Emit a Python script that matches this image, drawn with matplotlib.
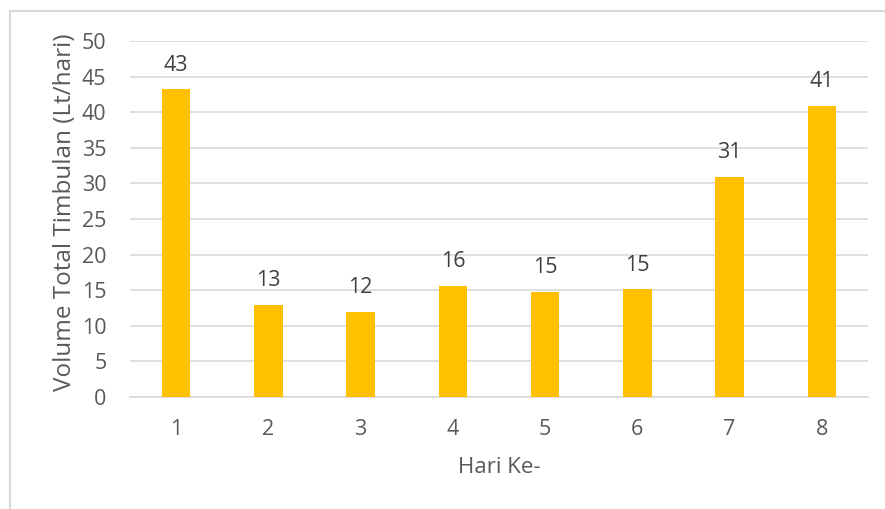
import matplotlib.pyplot as plt
from matplotlib.patches import Rectangle

hari = ["1", "2", "3", "4", "5", "6", "7", "8"]
volume = [43.2, 12.9, 12.0, 15.6, 14.8, 15.1, 30.9, 40.9]

plt.rcParams['font.family'] = ['Open Sans', 'DejaVu Sans']
text_color = "#595959"
grid_color = "#D9D9D9"
fs = 15.5

fig = plt.figure(figsize=(8.85, 5.09), dpi=100)
ax = fig.add_axes([130 / 885, 1 - 397 / 509, 738 / 885, 356 / 509])

x = list(range(len(hari)))
bars = ax.bar(x, volume, width=0.31, color="#FFC000", zorder=3)
for b, v in zip(bars, volume):
    ax.annotate(f"{v:.0f}", (b.get_x() + b.get_width() / 2, v), xytext=(0, 10),
                textcoords="offset points", ha="center", va="bottom",
                fontsize=fs, color="#404040")

ax.set_xlim(-0.5, len(hari) - 0.5)
ax.set_ylim(0, 50)
ax.set_yticks(range(0, 51, 5))
ax.set_xticks(x)
ax.set_xticklabels(hari)
ax.yaxis.grid(True, color=grid_color, linewidth=1.2, zorder=0)
ax.set_axisbelow(True)
for s in ["top", "right", "left"]:
    ax.spines[s].set_visible(False)
ax.spines["bottom"].set_color(grid_color)
ax.spines["bottom"].set_linewidth(1.2)
ax.tick_params(axis="both", length=0, labelsize=fs, colors=text_color)
ax.tick_params(axis="x", pad=16)
ax.tick_params(axis="y", pad=17)

ax.set_xlabel("Hari Ke-", fontsize=fs + 0.5, color=text_color, labelpad=12)
ax.set_ylabel("Volume Total Timbulan (Lt/hari)", fontsize=fs + 2, color=text_color)
ax.yaxis.set_label_coords(-0.072, 0.52)

# outer chart border (cropped on right and bottom)
fig.patches.append(Rectangle((10 / 885, -0.1), 1.2, 1 - 11 / 509 + 0.1,
                             transform=fig.transFigure, fill=False,
                             edgecolor=grid_color, linewidth=1.5))

fig.savefig("out.png", dpi=100)
